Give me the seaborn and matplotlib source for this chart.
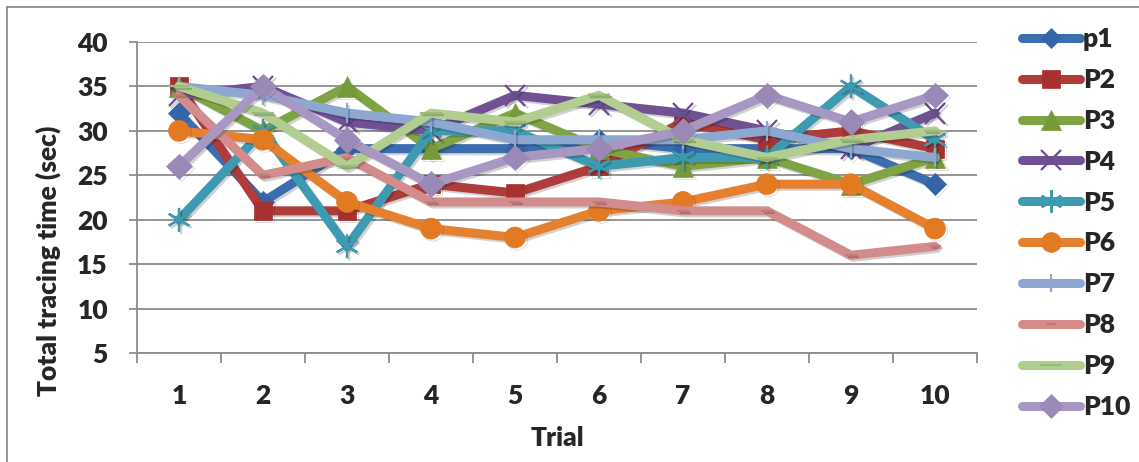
import numpy as np
import pandas as pd
import matplotlib
matplotlib.use("Agg")
import matplotlib.pyplot as plt
import matplotlib.patheffects as pe
from matplotlib.lines import Line2D
import seaborn as sns

# Trial numbers and per-participant total tracing times (sec)
trials = [1, 2, 3, 4, 5, 6, 7, 8, 9, 10]
participants = ["p1", "P2", "P3", "P4", "P5", "P6", "P7", "P8", "P9", "P10"]
p1 = [32, 22, 28, 28, 28, 29, 28, 28, 28, 24]
p2 = [35, 21, 21, 24, 23, 26, 31, 29, 30, 28]
p3 = [35, 30, 35, 28, 32, 28, 26, 27, 24, 27]
p4 = [34, 35, 31, 30, 34, 33, 32, 30, 28, 32]
p5 = [20, 30, 17, 30, 30, 26, 27, 27, 35, 29]
p6 = [30, 29, 22, 19, 18, 21, 22, 24, 24, 19]
p7 = [35, 34, 32, 31, 29, 29, 29, 30, 28, 27]
p8 = [34, 25, 27, 22, 22, 22, 21, 21, 16, 17]
p9 = [35, 32, 26, 32, 31, 34, 29, 27, 29, 30]
p10 = [26, 35, 29, 24, 27, 28, 30, 34, 31, 34]
y_ticks = [5, 10, 15, 20, 25, 30, 35, 40]

series = [p1, p2, p3, p4, p5, p6, p7, p8, p9, p10]
df = pd.DataFrame({
    "Trial": np.tile(trials, len(participants)),
    "Time": np.concatenate(series),
    "Participant": np.repeat(participants, len(trials)),
})

colors = ["#3B6EAF", "#AE3C3A", "#80A444", "#6F5194", "#3E9AB1",
          "#E5802F", "#8DA8D0", "#D38C8B", "#B2CD90", "#A897C2"]
# marker, size (pt), edge width, marker colour
marker_style = {
    "p1": ("D", 11, 0.5, "#3465A8"),
    "P2": ("s", 13, 0.5, "#A8302E"),
    "P3": ("^", 15, 0.5, "#76993A"),
    "P4": ("x", 15, 1.6, "#6A4C90"),
    "P5": ((6, 2, 0), 17, 1.6, "#3E9AB1"),
    "P6": ("o", 15, 0.5, "#E27A22"),
    "P7": ("|", 14, 1.6, "#8DA8D0"),
    "P8": ("_", 8, 1.6, "#C07A79"),
    "P9": ("_", 16, 1.6, "#9DBB78"),
    "P10": ("D", 13, 0.5, "#9A88B6"),
}

FS = 19
WEIGHT = "heavy"

sns.set_theme(style="white")
plt.rcParams["font.family"] = ["Lato", "DejaVu Sans"]
plt.rcParams["font.weight"] = WEIGHT

fig = plt.figure(figsize=(11.39, 4.62), dpi=100)
ax = fig.add_axes([137 / 1139, 1 - 353 / 462, 840 / 1139, 311 / 462])

shadow = [pe.SimpleLineShadow(offset=(1.5, -1.5), alpha=0.18, shadow_color="black"), pe.Normal()]

for name, color in zip(participants, colors):
    m, ms, mew, mc = marker_style[name]
    sns.lineplot(data=df[df["Participant"] == name], x="Trial", y="Time",
                 color=color, linewidth=6.5, marker=m, markersize=ms,
                 markeredgewidth=mew, markerfacecolor=mc, markeredgecolor=mc,
                 ax=ax, legend=False, path_effects=shadow,
                 solid_capstyle="round", solid_joinstyle="round")

ax.set_xlim(0.5, 10.5)
ax.set_ylim(5, 40)
ax.set_xticks(trials)
ax.set_xticks(np.arange(0.5, 11, 1), minor=True)
ax.set_yticks(y_ticks)
ax.yaxis.grid(True, color="#8C8C8C", linewidth=1.3)
ax.xaxis.grid(False)
ax.set_axisbelow(True)

for s in ["top", "right"]:
    ax.spines[s].set_visible(False)
for s in ["left", "bottom"]:
    ax.spines[s].set_color("#8C8C8C")
    ax.spines[s].set_linewidth(1.3)

ax.tick_params(axis="y", which="major", direction="out", length=6, width=1.3,
               color="#8C8C8C", pad=15, labelsize=FS, left=True)
ax.tick_params(axis="x", which="major", length=0, pad=22, labelsize=FS)
ax.tick_params(axis="x", which="minor", direction="out", length=7, width=1.3,
               color="#8C8C8C", bottom=True)
for lab in ax.get_xticklabels() + ax.get_yticklabels():
    lab.set_fontweight(WEIGHT)

ax.set_xlabel("Trial", fontsize=FS, fontweight=WEIGHT, labelpad=13)
ax.set_ylabel("Total tracing time (sec)", fontsize=FS, fontweight=WEIGHT)
ax.yaxis.set_label_coords(-0.090, 0.298)

handles = []
for name, color in zip(participants, colors):
    m, ms, mew, mc = marker_style[name]
    handles.append(Line2D([], [], color=color, linewidth=6.5, marker=m,
                          markersize=ms * 0.95, markeredgewidth=mew,
                          markerfacecolor=mc, markeredgecolor=mc,
                          solid_capstyle="round"))
fig.legend(handles, participants, loc="upper left",
           bbox_to_anchor=(1022 / 1139, 1 - 27 / 462), frameon=False,
           borderpad=0, borderaxespad=0, handlelength=2.2, handletextpad=0.1,
           labelspacing=0.64, prop={"size": FS, "weight": WEIGHT})

# chart frame on the left and top edges
fig.add_artist(Line2D([7 / 1139, 7 / 1139], [0, 1 - 7 / 462], transform=fig.transFigure,
                      color="#8C8C8C", linewidth=1.3))
fig.add_artist(Line2D([7 / 1139, 1], [1 - 7 / 462, 1 - 7 / 462], transform=fig.transFigure,
                      color="#8C8C8C", linewidth=1.3))

fig.savefig("out.png", dpi=100)
